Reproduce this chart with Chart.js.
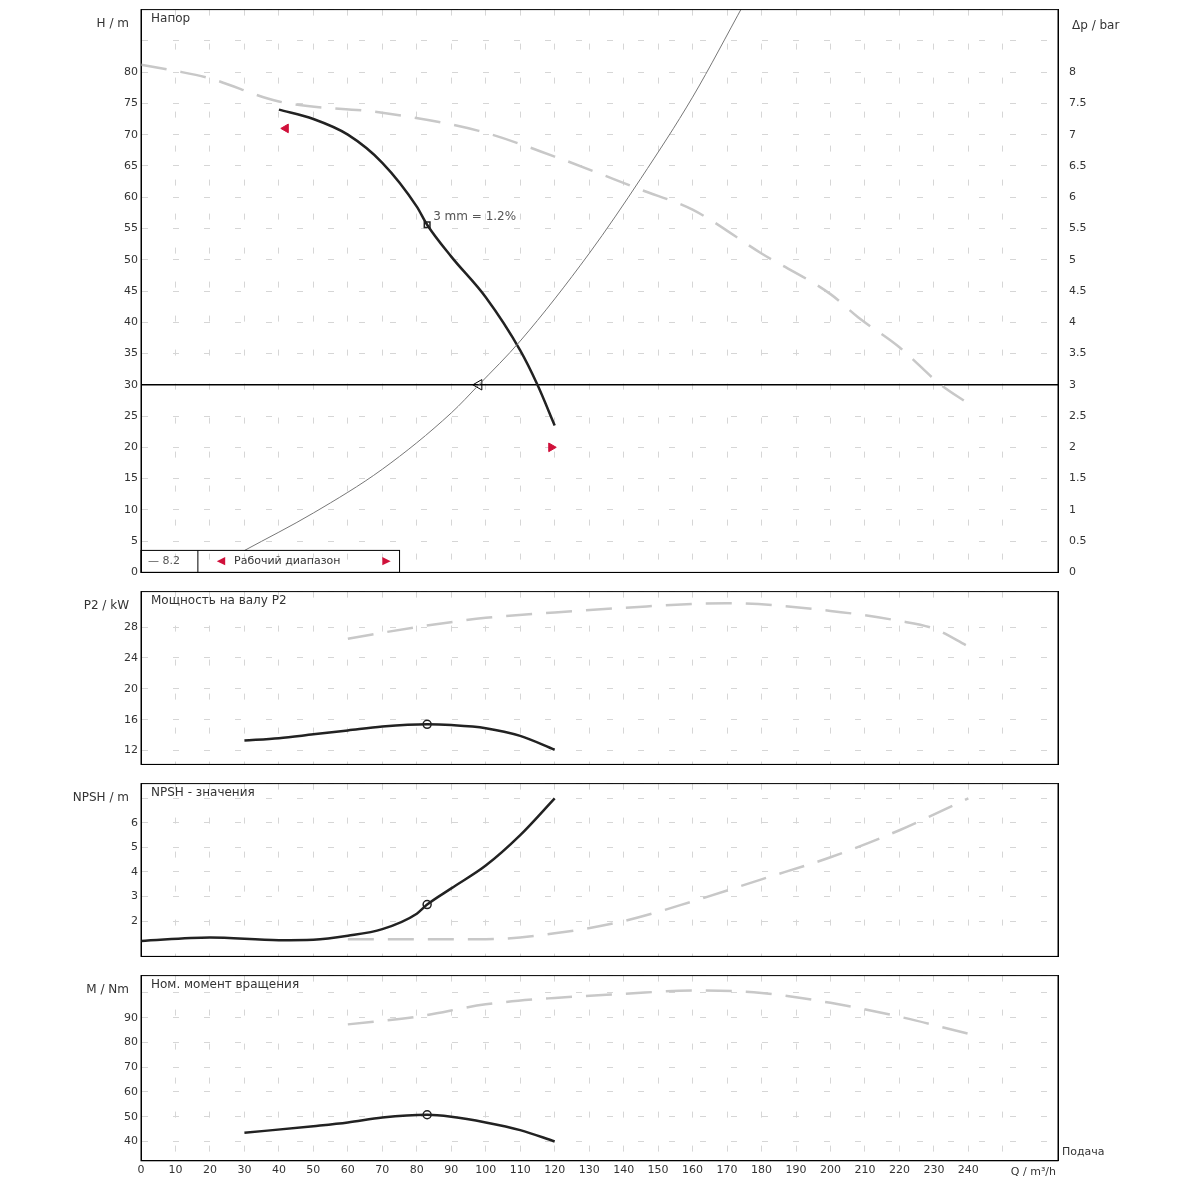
<!DOCTYPE html>
<html>
<head>
<meta charset="utf-8">
<script src="https://cdn.jsdelivr.net/npm/chart.js@4"></script>
<style>
body { margin: 0; background: #fff; }
.p { position: absolute; left: 0; width: 1200px; }
</style>
</head>
<body>
<div class="p" style="top:0;height:582px"><canvas id="c1"></canvas></div>
<div class="p" style="top:582px;height:192px"><canvas id="c2"></canvas></div>
<div class="p" style="top:774px;height:192px"><canvas id="c3"></canvas></div>
<div class="p" style="top:966px;height:234px"><canvas id="c4"></canvas></div>
<script>
// данные (Q в m³/h)
var headQ = [40, 50, 60, 70, 80, 83, 90, 100, 110, 115, 120];
var headH = [74, 72.5, 70, 65.5, 58.5, 55.6, 50.5, 44, 35.5, 30, 23.5];
var headMaxQ = [0, 10, 20, 40, 70, 98, 120, 145, 160, 180, 200, 208, 220, 232, 240];
var headMaxH = [81.2, 80.2, 79, 75.3, 73.5, 70.6, 66.5, 61.2, 58, 51, 44.5, 40.8, 36, 30, 27];
var sysQ = [30, 50, 70, 90, 98, 110, 130, 145, 160, 175];
var sysH = [3.5, 9.5, 16.5, 25.5, 30, 37, 51, 63, 76, 91];

var powQ = [30, 40, 50, 60, 70, 83, 90, 100, 110, 120];
var powP = [13.3, 13.6, 14.1, 14.6, 15.1, 15.4, 15.3, 14.9, 13.9, 12.1];
var powMaxQ = [60, 80, 100, 120, 140, 170, 200, 220, 230, 240];
var powMaxP = [26.5, 28, 29.2, 29.9, 30.5, 31.1, 30.1, 28.8, 27.8, 25.5];

var npshQ = [0, 20, 40, 50, 60, 70, 80, 83, 90, 100, 110, 120];
var npshV = [1.19, 1.33, 1.22, 1.24, 1.4, 1.67, 2.3, 2.67, 3.33, 4.26, 5.5, 7];
var npshMaxQ = [60, 100, 120, 140, 160, 180, 200, 220, 240];
var npshMaxV = [1.26, 1.26, 1.5, 2, 2.8, 3.7, 4.6, 5.7, 7];

var torQ = [30, 50, 60, 70, 83, 90, 100, 110, 120];
var torM = [43.5, 46.2, 47.7, 49.7, 50.8, 50, 47.7, 44.6, 40];
var torMaxQ = [60, 80, 100, 120, 140, 160, 180, 200, 220, 240];
var torMaxM = [87.3, 90.4, 95.4, 98, 99.6, 101, 100, 96, 90.4, 83.5];

var dutyQ = 83, dutyH = 55.6;
var opQ = 98, opH = 30;

function pts(xs, ys) { return xs.map(function (x, i) { return { x: x, y: ys[i] }; }); }

var FONT = { family: "DejaVu Sans", size: 11 };
var gridStyle = { color: "#d6d6d6", lineWidth: 1, drawTicks: false };

function xScale(show) {
  var s = {
    type: "linear", min: 0, max: 266,
    ticks: { display: show, stepSize: 10, color: "#333", font: FONT, maxRotation: 0,
      callback: function (v) { return v <= 240 ? v : ""; } },
    grid: Object.assign({}, gridStyle),
    border: { display: true, color: "#000", dash: [6, 28] }
  };
  if (!show) s.afterFit = function (sc) { sc.height = 0; };
  return s;
}
function yLeft(min, max, step) {
  return {
    type: "linear", position: "left", min: min, max: max,
    ticks: { stepSize: step, color: "#333", font: FONT },
    grid: Object.assign({}, gridStyle),
    border: { color: "#000", dash: [6, 25] },
    afterFit: function (s) { s.width = 141; }
  };
}
function dummyRight() {
  return { position: "right", display: true, ticks: { display: false }, grid: { display: false },
    border: { display: true, color: "#000" }, afterFit: function (s) { s.width = 142; } };
}

// подписи
var textPlugin = {
  id: "texts",
  afterDraw: function (chart, args, opts) {
    var ctx = chart.ctx, a = chart.chartArea;
    ctx.save();
    ctx.strokeStyle = "#000"; ctx.lineWidth = 1;
    ctx.strokeRect(a.left, a.top, a.right - a.left, a.bottom - a.top);
    ctx.font = "12px DejaVu Sans";
    ctx.fillStyle = "#333";
    ctx.textBaseline = "top";
    ctx.fillText(opts.title, a.left + 10, a.top + 3);
    ctx.textAlign = "right";
    ctx.fillText(opts.unit, a.left - 12, a.top + 8);
    if (opts.right) { ctx.textAlign = "left"; ctx.fillText(opts.right, a.right + 14, a.top + 10); }
    (opts.extra || []).forEach(function (e) { e(ctx, chart); });
    ctx.restore();
  }
};
Chart.register(textPlugin);

function baseOpts(scales, texts, padTop, padBottom) {
  return {
    responsive: true, maintainAspectRatio: false, animation: false,
    layout: { padding: { top: padTop, bottom: padBottom, left: 0, right: 0 } },
    plugins: { legend: { display: false }, tooltip: { enabled: false }, texts: texts },
    scales: scales,
    elements: { point: { radius: 0 }, line: { cubicInterpolationMode: "monotone" } }
  };
}
function black(data) { return { data: data, borderColor: "#222", borderWidth: 2.5, fill: false }; }
function gray(data) { return { data: data, borderColor: "#c8c8c8", borderWidth: 2.5, borderDash: [26, 14], fill: false }; }

// Напор
var s1 = { x: xScale(false), y: yLeft(0, 90, 5),
  y2: { type: "linear", position: "right", min: 0, max: 9,
    ticks: { stepSize: 0.5, color: "#333", font: FONT, callback: function (v) { return v <= 8 ? v : ""; } },
    grid: { display: false }, border: { color: "#000" }, afterFit: function (s) { s.width = 142; } } };
s1.y.ticks.callback = function (v) { return v <= 80 ? v : ""; };
new Chart(document.getElementById("c1"), {
  type: "line",
  data: { datasets: [
    gray(pts(headMaxQ, headMaxH)),
    { data: pts(sysQ, sysH), borderColor: "#777", borderWidth: 1, fill: false },
    black(pts(headQ, headH)),
    { data: [{ x: 0, y: 30 }, { x: 266, y: 30 }], borderColor: "#000", borderWidth: 1.5 },
    { data: [{ x: dutyQ, y: dutyH }], showLine: false, pointRadius: 4, pointStyle: "rect", pointBorderColor: "#222", pointBackgroundColor: "#fff", pointBorderWidth: 1.5 },
    { data: [{ x: opQ, y: opH }], showLine: false, pointRadius: 6, pointStyle: "triangle", rotation: -90, pointBorderColor: "#000", pointBackgroundColor: "#fff" },
    { data: [{ x: 42, y: 71 }], showLine: false, pointRadius: 5, pointStyle: "triangle", rotation: -90, pointBackgroundColor: "#d0103a", pointBorderColor: "#d0103a" },
    { data: [{ x: 119, y: 20 }], showLine: false, pointRadius: 5, pointStyle: "triangle", rotation: 90, pointBackgroundColor: "#d0103a", pointBorderColor: "#d0103a" }
  ] },
  options: baseOpts(s1, { title: "Напор", unit: "H / m", right: "Δp / bar", extra: [
    function (ctx, ch) {
      var x = ch.scales.x, y = ch.scales.y;
      ctx.textAlign = "left"; ctx.textBaseline = "middle"; ctx.fillStyle = "#555";
      ctx.fillText("3 mm = 1.2%", x.getPixelForValue(dutyQ) + 6, y.getPixelForValue(dutyH) - 8);
      // легенда рабочего диапазона
      var yb = ch.chartArea.bottom, yt = yb - 22;
      ctx.strokeStyle = "#000"; ctx.lineWidth = 1;
      ctx.strokeRect(x.getPixelForValue(0), yt, x.getPixelForValue(75) - x.getPixelForValue(0), 22);
      ctx.beginPath(); ctx.moveTo(x.getPixelForValue(16.5), yt); ctx.lineTo(x.getPixelForValue(16.5), yb); ctx.stroke();
      ctx.fillStyle = "#555"; ctx.font = "11px DejaVu Sans";
      ctx.fillText("— 8.2", x.getPixelForValue(2), yt + 11);
      ctx.fillStyle = "#d0103a"; ctx.fillText("◀", x.getPixelForValue(22), yt + 11);
      ctx.fillStyle = "#333"; ctx.fillText("Рабочий диапазон", x.getPixelForValue(27), yt + 11);
      ctx.fillStyle = "#d0103a"; ctx.fillText("▶", x.getPixelForValue(70), yt + 11);
    }] }, 5, 1)
});

// Мощность
var s2 = { x: xScale(false), y: yLeft(10.2, 32.6, 4), yr: dummyRight() };
s2.y.ticks.callback = function (v) { return v >= 12 && v <= 28 ? v : ""; };
new Chart(document.getElementById("c2"), {
  type: "line",
  data: { datasets: [gray(pts(powMaxQ, powMaxP)), black(pts(powQ, powP)),
    { data: [{ x: dutyQ, y: 15.4 }], showLine: false, pointRadius: 4, pointStyle: "circle", pointBorderColor: "#222", pointBackgroundColor: "#fff", pointBorderWidth: 1.5 }] },
  options: baseOpts(s2, { title: "Мощность на валу P2", unit: "P2 / kW" }, 1, 1)
});

// NPSH
var s3 = { x: xScale(false), y: yLeft(0.56, 7.6, 1), yr: dummyRight() };
s3.y.ticks.callback = function (v) { return v >= 1 && v <= 6 ? v : ""; };
new Chart(document.getElementById("c3"), {
  type: "line",
  data: { datasets: [gray(pts(npshMaxQ, npshMaxV)), black(pts(npshQ, npshV)),
    { data: [{ x: dutyQ, y: 2.67 }], showLine: false, pointRadius: 4, pointStyle: "circle", pointBorderColor: "#222", pointBackgroundColor: "#fff", pointBorderWidth: 1.5 }] },
  options: baseOpts(s3, { title: "NPSH - значения", unit: "NPSH / m" }, 1, 1)
});

// Момент
var s4 = { x: xScale(true), y: yLeft(32.2, 107, 10), yr: dummyRight() };
s4.y.ticks.callback = function (v) { return v >= 40 && v <= 90 ? v : ""; };
new Chart(document.getElementById("c4"), {
  type: "line",
  data: { datasets: [gray(pts(torMaxQ, torMaxM)), black(pts(torQ, torM)),
    { data: [{ x: dutyQ, y: 50.8 }], showLine: false, pointRadius: 4, pointStyle: "circle", pointBorderColor: "#222", pointBackgroundColor: "#fff", pointBorderWidth: 1.5 }] },
  options: baseOpts(s4, { title: "Ном. момент вращения", unit: "M / Nm", extra: [
    function (ctx, ch) {
      var a = ch.chartArea;
      ctx.textAlign = "left"; ctx.textBaseline = "top"; ctx.font = "11px DejaVu Sans";
      ctx.fillText("Подача", a.right + 4, a.bottom - 14);
      ctx.textAlign = "right";
      ctx.fillText("Q / m³/h", a.right - 2, a.bottom + 6);
    }] }, 1, 20)
});
</script>
</body>
</html>
